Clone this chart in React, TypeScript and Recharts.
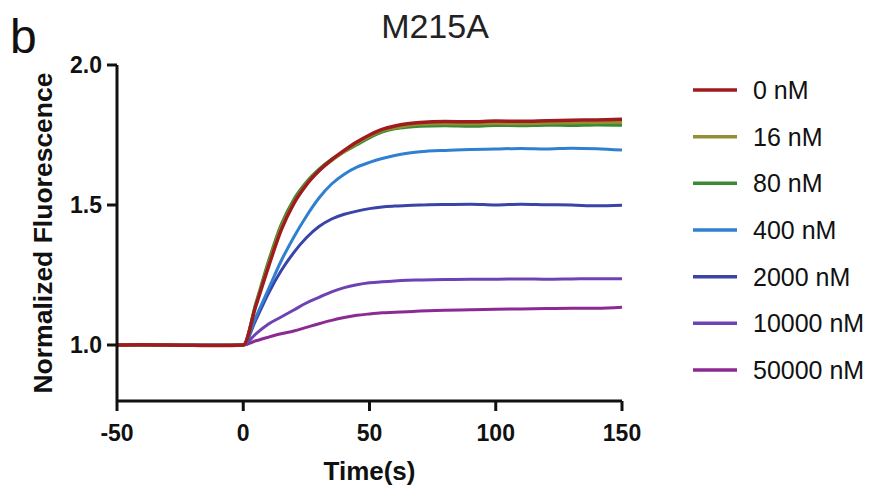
import React from "react";
import { LineChart, Line, XAxis, YAxis, Legend, Label } from "recharts";

const FONT = '"Liberation Sans", Arial, Helvetica, sans-serif';

const time = [-50, -40, -30, -20, -10, 0, 5, 10, 15, 20, 25, 30, 35, 40, 45, 50, 55, 60, 65, 70, 80, 90, 100, 110, 120, 130, 140, 150];

const nM0 = [1.0, 1.001, 1.0, 0.999, 0.998, 1.0, 1.14, 1.28, 1.41, 1.505, 1.572, 1.622, 1.662, 1.695, 1.725, 1.75, 1.77, 1.782, 1.79, 1.795, 1.798, 1.797, 1.8, 1.799, 1.801, 1.803, 1.804, 1.806];
const nM16 = [1.0, 1.0, 1.0, 0.999, 0.999, 1.0, 1.145, 1.29, 1.42, 1.51, 1.577, 1.622, 1.658, 1.69, 1.72, 1.745, 1.765, 1.775, 1.783, 1.788, 1.79, 1.789, 1.791, 1.79, 1.792, 1.793, 1.794, 1.795];
const nM80 = [1.0, 1.0, 1.0, 0.999, 0.999, 1.0, 1.15, 1.3, 1.43, 1.52, 1.582, 1.628, 1.663, 1.69, 1.715, 1.74, 1.76, 1.772, 1.778, 1.781, 1.783, 1.781, 1.784, 1.783, 1.785, 1.784, 1.786, 1.785];
const nM400 = [1.0, 1.0, 1.0, 0.999, 0.999, 1.0, 1.1, 1.2, 1.3, 1.385, 1.46, 1.525, 1.575, 1.61, 1.635, 1.652, 1.666, 1.677, 1.685, 1.69, 1.695, 1.698, 1.7, 1.702, 1.7, 1.703, 1.701, 1.696];
const nM2000 = [1.0, 1.0, 1.0, 0.999, 0.999, 1.0, 1.09, 1.185, 1.265, 1.33, 1.383, 1.423, 1.45, 1.467, 1.478, 1.487, 1.493, 1.496, 1.498, 1.5, 1.502, 1.503, 1.5, 1.503, 1.501, 1.5, 1.497, 1.499];
const nM10000 = [1.0, 1.0, 1.0, 0.999, 0.999, 1.0, 1.04, 1.075, 1.1, 1.125, 1.15, 1.17, 1.19, 1.205, 1.215, 1.222, 1.226, 1.229, 1.231, 1.232, 1.234, 1.235, 1.235, 1.236, 1.235, 1.236, 1.237, 1.237];
const nM50000 = [1.0, 1.0, 1.0, 0.999, 0.999, 1.0, 1.015, 1.028, 1.04, 1.05, 1.063, 1.076, 1.088, 1.098, 1.106, 1.111, 1.115, 1.117, 1.119, 1.121, 1.124, 1.126, 1.128, 1.129, 1.13, 1.131, 1.131, 1.135];

const seriesNames = ["0 nM", "16 nM", "80 nM", "400 nM", "2000 nM", "10000 nM", "50000 nM"];
const seriesKeys = ["s0", "s16", "s80", "s400", "s2000", "s10000", "s50000"];
const seriesColors = ["#9e1b1e", "#948f30", "#3a8a35", "#2f80d0", "#3a43a8", "#6d42b2", "#8a2a92"];
const seriesValues = [nM0, nM16, nM80, nM400, nM2000, nM10000, nM50000];

const xTicks = [-50, 0, 50, 100, 150];
const yTicks = [1.0, 1.5, 2.0];

const data = time.map((t, i) => {
  const row: Record<string, number> = { t };
  seriesKeys.forEach((k, j) => {
    row[k] = seriesValues[j][i];
  });
  return row;
});

const renderLegend = () => (
  <svg width={186} height={310} style={{ display: "block", overflow: "visible" }}>
    {seriesNames.map((name, i) => {
      const cy = 18 + i * 46.67;
      return (
        <g key={name}>
          <line x1={3} x2={47} y1={cy} y2={cy} stroke={seriesColors[i]} strokeWidth={3.5} />
          <text x={63} y={cy} dy="0.36em" fontSize={25} fontFamily={FONT} fill="#111">
            {name}
          </text>
        </g>
      );
    })}
  </svg>
);

const XLabel = (props: any) => {
  const vb = props.viewBox || { x: 117, y: 401, width: 505, height: 90 };
  return (
    <text x={vb.x + vb.width / 2} y={vb.y + 79} textAnchor="middle" fontSize={26} fontWeight="bold" fontFamily={FONT} fill="#111">
      Time(s)
    </text>
  );
};

const YLabel = (props: any) => {
  const vb = props.viewBox || { x: 0, y: 65, width: 117, height: 336 };
  const cx = 52;
  const cy = vb.y + vb.height / 2;
  return (
    <text x={cx} y={cy} transform={`rotate(-90, ${cx}, ${cy})`} textAnchor="middle" fontSize={26.5} fontWeight="bold" fontFamily={FONT} fill="#111">
      Normalized Fluorescence
    </text>
  );
};

export default function App() {
  const axisStroke = { stroke: "#111", strokeWidth: 3 };
  const tickStyle = { fill: "#111", fontSize: 23, fontWeight: "bold", fontFamily: FONT };
  return (
    <div style={{ position: "absolute", left: 0, top: 0, width: 880, height: 491, background: "#fff", fontFamily: FONT }}>
      <LineChart width={880} height={491} data={data} margin={{ top: 65, right: 258, bottom: 0, left: 0 }}>
        <XAxis
          dataKey="t"
          type="number"
          domain={[-50, 150]}
          ticks={xTicks}
          allowDataOverflow
          height={90}
          axisLine={axisStroke}
          tickLine={axisStroke}
          tickSize={10}
          tickMargin={14}
          tick={tickStyle}
        >
          <Label content={<XLabel />} />
        </XAxis>
        <YAxis
          type="number"
          domain={[0.8, 2.0]}
          ticks={yTicks}
          allowDataOverflow
          width={117}
          axisLine={axisStroke}
          tickLine={axisStroke}
          tickSize={10}
          tickMargin={5}
          tick={tickStyle}
          tickFormatter={(v: number) => v.toFixed(1)}
        >
          <Label content={<YLabel />} />
        </YAxis>
        <Legend
          layout="horizontal"
          verticalAlign="middle"
          align="center"
          width={186}
          height={310}
          wrapperStyle={{ left: 690, top: 72 }}
          content={renderLegend}
        />
        {seriesKeys
          .map((k, i) => ({ k, i }))
          .reverse()
          .map(({ k, i }) => (
            <Line
              key={k}
              dataKey={k}
              name={seriesNames[i]}
              type="monotone"
              stroke={seriesColors[i]}
              strokeWidth={i === 0 ? 3.5 : 3}
              dot={false}
              activeDot={false}
              isAnimationActive={false}
            />
          ))}
      </LineChart>
      <svg width={880} height={491} style={{ position: "absolute", left: 0, top: 0, pointerEvents: "none" }}>
        <text x={10} y={53} fontSize={48} fontFamily={FONT} fill="#111">b</text>
        <text x={435} y={38} textAnchor="middle" fontSize={34} fontFamily={FONT} fill="#222">M215A</text>
      </svg>
    </div>
  );
}
